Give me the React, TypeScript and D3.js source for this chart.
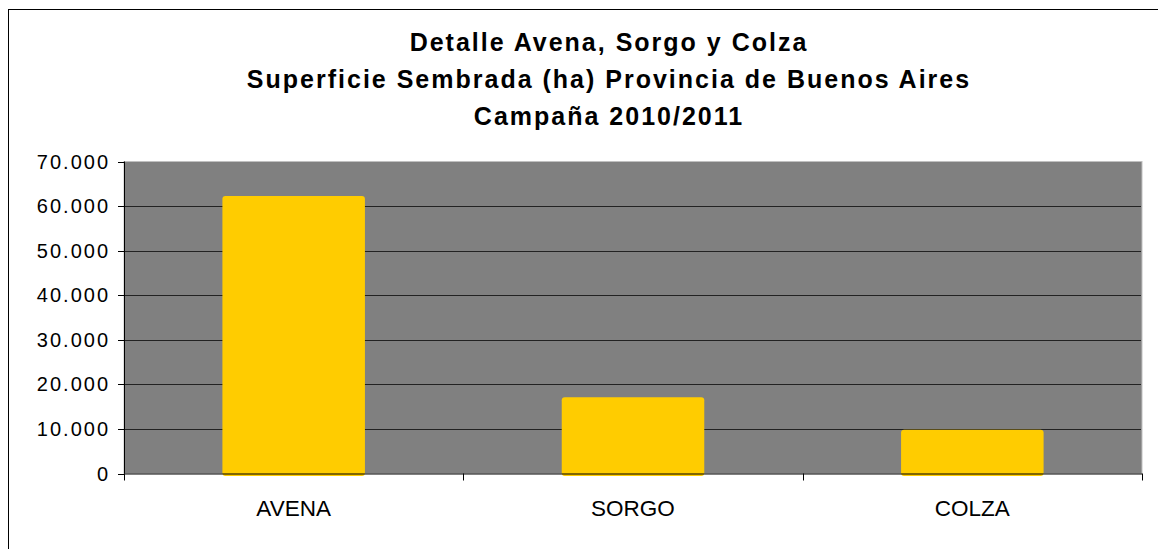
import React from "react";
import * as d3 from "d3";

const categories = ["AVENA", "SORGO", "COLZA"];
const values = [62250, 17100, 9800];
const yTicks = [0, 10000, 20000, 30000, 40000, 50000, 60000, 70000];
const titleLines = [
  "Detalle Avena, Sorgo y Colza",
  "Superficie Sembrada (ha) Provincia de Buenos Aires",
  "Campaña 2010/2011",
];

const W = 1158;
const H = 549;
const plot = { left: 124, right: 1142, top: 161.5, bottom: 473.5 };

export default function App() {
  const x = d3
    .scaleBand<string>()
    .domain(categories)
    .range([plot.left, plot.right])
    .paddingInner(0.58)
    .paddingOuter(0.29);
  const y = d3.scaleLinear().domain([0, 70000]).range([plot.bottom, plot.top]);
  const fmt = (v: number) => d3.format(",")(v).replace(/,/g, ".");
  const step = (plot.right - plot.left) / categories.length;
  const font = "'Liberation Sans', Arial, sans-serif";

  return (
    <svg
      width={W}
      height={H}
      style={{ position: "absolute", left: 0, top: 0, fontFamily: font }}
    >
      <rect x={0} y={0} width={W} height={H} fill="#fff" />
      <rect x={8.5} y={9.5} width={W + 20} height={H + 20} fill="none" stroke="#000" strokeWidth={1} />
      {titleLines.map((t, i) => (
        <text
          key={i}
          x={609}
          y={51 + i * 37}
          textAnchor="middle"
          fontSize={25}
          fontWeight="bold"
          letterSpacing={2}
          fill="#000"
        >
          {t}
        </text>
      ))}
      <rect
        x={plot.left}
        y={plot.top}
        width={plot.right - plot.left}
        height={plot.bottom - plot.top}
        fill="#808080"
        stroke="#c0c0c0"
        strokeWidth={1}
      />
      {yTicks.slice(1, -1).map((t) => (
        <line
          key={t}
          x1={plot.left}
          x2={plot.right - 1}
          y1={Math.round(y(t)) + 0.5}
          y2={Math.round(y(t)) + 0.5}
          stroke="#222"
          strokeWidth={1}
        />
      ))}
      {categories.map((c, i) => (
        <rect
          key={c}
          x={x(c)}
          y={y(values[i])}
          width={x.bandwidth()}
          height={plot.bottom - y(values[i]) + 2.5}
          rx={3}
          ry={3}
          fill="#FFCC00"
        />
      ))}
      <line x1={plot.left + 0.5} x2={plot.left + 0.5} y1={plot.top} y2={plot.bottom} stroke="#000" />
      <line x1={plot.left} x2={plot.right} y1={plot.bottom + 0.5} y2={plot.bottom + 0.5} stroke="#000" />
      {yTicks.map((t) => (
        <g key={t}>
          <line
            x1={plot.left - 6}
            x2={plot.left}
            y1={Math.round(y(t)) + 0.5}
            y2={Math.round(y(t)) + 0.5}
            stroke="#000"
          />
          <text x={110} y={y(t) + 7} textAnchor="end" fontSize={20} letterSpacing={2} fill="#000">
            {fmt(t)}
          </text>
        </g>
      ))}
      {d3.range(categories.length + 1).map((i) => (
        <line
          key={i}
          x1={Math.round(plot.left + i * step) + 0.5}
          x2={Math.round(plot.left + i * step) + 0.5}
          y1={plot.bottom}
          y2={plot.bottom + 7}
          stroke="#000"
        />
      ))}
      {categories.map((c) => (
        <text
          key={c}
          x={(x(c) as number) + x.bandwidth() / 2}
          y={516}
          textAnchor="middle"
          fontSize={22.5}
          fill="#000"
        >
          {c}
        </text>
      ))}
    </svg>
  );
}
